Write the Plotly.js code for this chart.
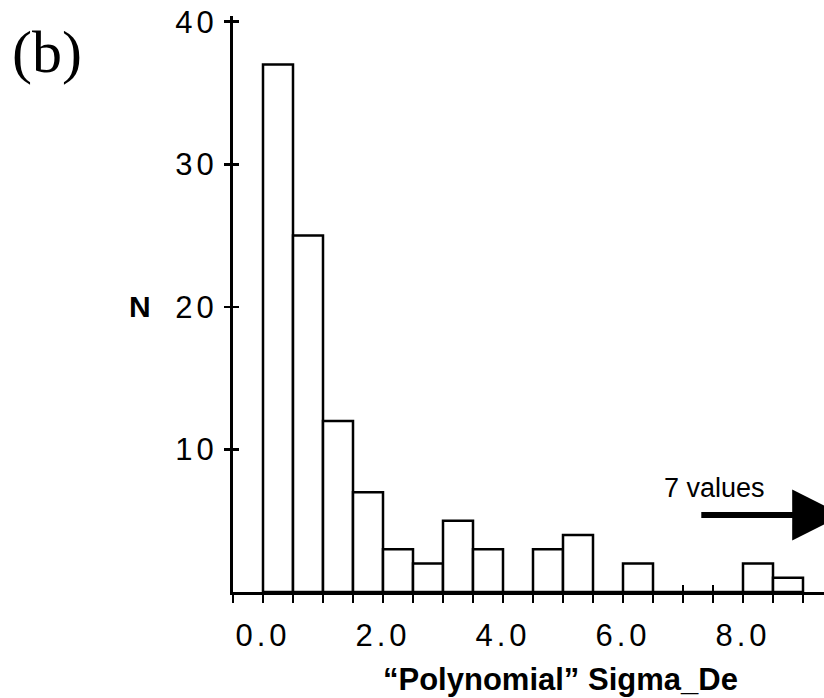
<!DOCTYPE html>
<html>
<head>
<meta charset="utf-8">
<script src="https://cdn.plot.ly/plotly-3.0.1.min.js"></script>
<style>
  html, body { margin: 0; padding: 0; background: #fff; }
  #chart { width: 824px; height: 698px; }
  .xtick text, .ytick text { letter-spacing: 4px; }
</style>
</head>
<body>
<div id="chart"></div>
<script>
// Histogram of "Polynomial" Sigma_De, bins of 0.5
const binCenters = [0.25, 0.75, 1.25, 1.75, 2.25, 2.75, 3.25, 3.75, 4.25,
                    4.75, 5.25, 5.75, 6.25, 6.75, 7.25, 7.75, 8.25, 8.75];
const counts     = [37, 25, 12, 7, 3, 2, 5, 3, 0,
                    3, 4, 0, 2, 0, 0, 0, 2, 1];
const binWidth = 0.5;

const xTickVals = [0, 2, 4, 6, 8];
const xTickText = ["0.0", "2.0", "4.0", "6.0", "8.0"];
const yTickVals = [10, 20, 30, 40];
const yTickText = ["10", "20", "30", "40"];

const xTitle = "\u201CPolynomial\u201D Sigma_De";
const yTitle = "N";
const panelLabel = "(b)";
const noteText = "7 values";
// arrow: tail and tip positions in data units
const arrowTail = [7.28, 5.4];
const arrowTip  = [9.67, 5.4];

const xRange = [-0.5, 9.35];
const yRange = [0, 40.4];

const font = "'Liberation Sans', Arial, Helvetica, sans-serif";

const traces = [
  {
    type: 'bar',
    x: binCenters,
    y: counts,
    width: counts.map(() => binWidth),
    marker: { color: '#ffffff', line: { color: '#000000', width: 2.5 } },
    hoverinfo: 'skip',
    showlegend: false
  },
  {
    // invisible copy that only hosts the crossing (inside) tick marks
    type: 'scatter', mode: 'markers',
    x: binCenters, y: counts,
    xaxis: 'x2', yaxis: 'y2',
    marker: { opacity: 0, size: 1 },
    hoverinfo: 'skip', showlegend: false
  }
];

const layout = {
  width: 824, height: 698,
  margin: { l: 233, r: 0, t: 16, b: 106 },
  paper_bgcolor: '#ffffff',
  plot_bgcolor: '#ffffff',
  font: { family: font, color: '#000000' },
  showlegend: false,
  xaxis: {
    range: xRange,
    showline: true, linecolor: '#000', linewidth: 3,
    showgrid: false, zeroline: false,
    tickmode: 'array', tickvals: xTickVals, ticktext: xTickText,
    ticks: 'outside', ticklen: 8, tickwidth: 2.5, tickcolor: '#000',
    minor: { dtick: 0.5, tick0: 0, ticks: 'outside', ticklen: 8, tickwidth: 2.5, tickcolor: '#000', showgrid: false },
    tickfont: { size: 31, family: font, color: '#000' },
    ticklabelstandoff: 6,
    fixedrange: true
  },
  yaxis: {
    range: yRange,
    showline: true, linecolor: '#000', linewidth: 3,
    showgrid: false, zeroline: false,
    tickmode: 'array', tickvals: yTickVals, ticktext: yTickText,
    ticks: 'outside', ticklen: 6, tickwidth: 2.5, tickcolor: '#000',
    tickfont: { size: 31, family: font, color: '#000' },
    ticklabelstandoff: 0,
    fixedrange: true
  },
  xaxis2: {
    overlaying: 'x', anchor: 'y2', side: 'bottom',
    range: xRange,
    showline: false, showgrid: false, zeroline: false,
    tickmode: 'linear', tick0: 0, dtick: 0.5,
    ticks: 'inside', ticklen: 7, tickwidth: 2.5, tickcolor: '#000',
    showticklabels: false, fixedrange: true
  },
  yaxis2: {
    overlaying: 'y', anchor: 'x2', side: 'left',
    range: yRange,
    showline: false, showgrid: false, zeroline: false,
    tickmode: 'array', tickvals: yTickVals,
    ticks: 'inside', ticklen: 6, tickwidth: 2.5, tickcolor: '#000',
    showticklabels: false, fixedrange: true
  },
  annotations: [
    {
      text: xTitle, xref: 'x', yref: 'paper',
      x: 4.95, y: 0, xanchor: 'center', yanchor: 'top', yshift: -68,
      showarrow: false,
      font: { size: 31, family: font, color: '#000', weight: 'bold' }
    },
    {
      text: yTitle, xref: 'paper', yref: 'y',
      x: 0, y: 20, xanchor: 'center', yanchor: 'middle', xshift: -93,
      showarrow: false,
      font: { size: 30, family: font, color: '#000', weight: 'bold' }
    },
    {
      text: panelLabel, xref: 'paper', yref: 'paper',
      x: 0, y: 1, xanchor: 'center', yanchor: 'middle', xshift: -186, yshift: -36,
      showarrow: false,
      font: { size: 60, family: "'Liberation Serif', 'Times New Roman', serif", color: '#000' }
    },
    {
      text: noteText, xref: 'x', yref: 'y',
      x: 7.53, y: 7.3, xanchor: 'center', yanchor: 'middle',
      showarrow: false,
      font: { size: 27, family: font, color: '#000' }
    },
    {
      text: '', xref: 'x', yref: 'y', axref: 'x', ayref: 'y',
      x: arrowTip[0], y: arrowTip[1], ax: arrowTail[0], ay: arrowTail[1],
      showarrow: true, arrowhead: 2, arrowsize: 1.7, arrowwidth: 6, arrowcolor: '#000'
    }
  ]
};

Plotly.newPlot('chart', traces, layout, { displayModeBar: false, staticPlot: true });
</script>
</body>
</html>
